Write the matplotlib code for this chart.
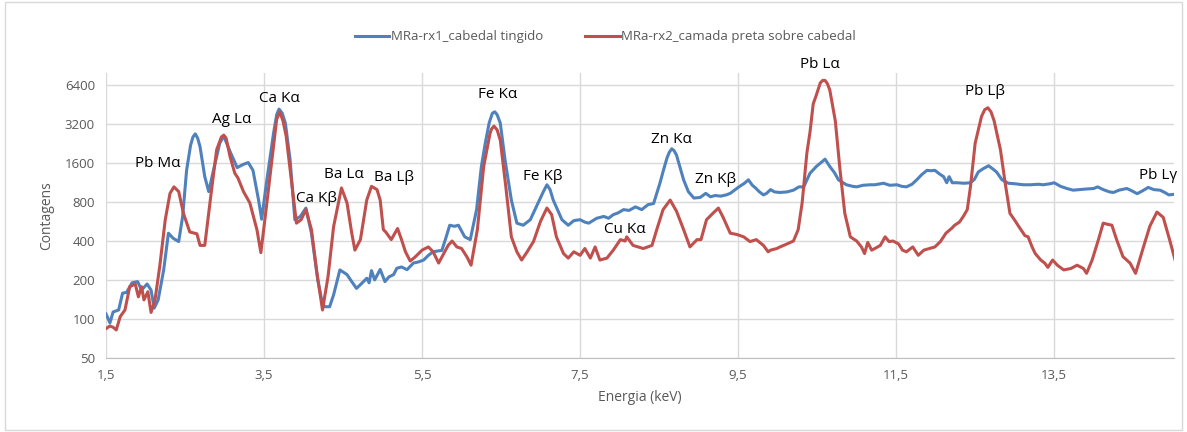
import matplotlib.pyplot as plt
from matplotlib.ticker import FixedLocator, FixedFormatter, NullLocator
from matplotlib.patches import Rectangle

# MRa-rx1_cabedal tingido
energia_rx1 = [1.50, 1.55, 1.59, 1.66, 1.71, 1.76, 1.83, 1.90, 1.95, 2.02, 2.07, 2.11, 2.16, 2.23, 2.29, 2.35,
               2.42, 2.47, 2.52, 2.57, 2.60, 2.63, 2.66, 2.69, 2.75, 2.80, 2.86, 2.94, 2.99, 3.07, 3.16, 3.23,
               3.30, 3.36, 3.43, 3.47, 3.53, 3.62, 3.66, 3.69, 3.73, 3.77, 3.83, 3.89, 3.96, 4.03, 4.10, 4.18,
               4.24, 4.27, 4.33, 4.38, 4.46, 4.55, 4.61, 4.67, 4.74, 4.80, 4.83, 4.86, 4.90, 4.97, 5.03, 5.08,
               5.14, 5.18, 5.24, 5.31, 5.39, 5.45, 5.52, 5.58, 5.64, 5.70, 5.75, 5.80, 5.85, 5.91, 5.96, 6.04,
               6.11, 6.19, 6.25, 6.30, 6.35, 6.39, 6.42, 6.45, 6.49, 6.55, 6.63, 6.70, 6.78, 6.87, 6.97, 7.03,
               7.08, 7.12, 7.16, 7.27, 7.35, 7.42, 7.50, 7.56, 7.61, 7.71, 7.80, 7.86, 7.92, 7.98, 8.05, 8.12,
               8.20, 8.28, 8.36, 8.43, 8.51, 8.56, 8.60, 8.63, 8.66, 8.69, 8.72, 8.81, 8.87, 8.94, 9.02, 9.09,
               9.15, 9.21, 9.28, 9.35, 9.40, 9.51, 9.58, 9.63, 9.68, 9.72, 9.77, 9.82, 9.86, 9.91, 9.96, 10.03,
               10.12, 10.20, 10.27, 10.33, 10.41, 10.49, 10.55, 10.60, 10.66, 10.72, 10.77, 10.87, 10.95, 11.00,
               11.08, 11.17, 11.23, 11.34, 11.42, 11.51, 11.57, 11.63, 11.70, 11.76, 11.82, 11.89, 11.94, 11.99,
               12.05, 12.10, 12.14, 12.17, 12.21, 12.27, 12.36, 12.44, 12.49, 12.54, 12.60, 12.67, 12.72, 12.77,
               12.84, 12.92, 13.00, 13.11, 13.20, 13.30, 13.36, 13.45, 13.50, 13.58, 13.66, 13.74, 13.82, 13.90,
               14.00, 14.05, 14.12, 14.20, 14.25, 14.32, 14.42, 14.48, 14.55, 14.62, 14.69, 14.76, 14.84, 14.90,
               14.95, 15.02]
contagens_rx1 = [109, 93, 113, 117, 158, 160, 190, 194, 167, 186, 167, 121, 140, 239, 460, 420,
                 396, 620, 1410, 2200, 2550, 2700, 2500, 2150, 1260, 965, 1410, 2290, 2600, 1970, 1480, 1560,
                 1620, 1410, 835, 590, 1120, 2720, 3800, 4200, 3900, 3270, 1700, 585, 620, 720, 460, 200,
                 130, 124, 124, 153, 239, 220, 194, 172, 189, 206, 190, 236, 200, 241, 194, 211,
                 220, 246, 252, 240, 270, 275, 285, 310, 330, 335, 338, 420, 530, 520, 530, 431,
                 410, 700, 1500, 2290, 3300, 3900, 4000, 3800, 3270, 1700, 830, 550, 530, 585, 790, 950,
                 1090, 1000, 830, 585, 530, 575, 585, 560, 550, 600, 620, 600, 640, 660, 700, 690,
                 735, 700, 765, 780, 1120, 1450, 1760, 1950, 2070, 2000, 1850, 1190, 965, 860, 870, 935,
                 880, 900, 890, 910, 935, 1050, 1120, 1190, 1080, 1030, 960, 910, 935, 1000, 960, 950,
                 960, 990, 1050, 1050, 1340, 1510, 1620, 1720, 1510, 1350, 1190, 1090, 1060, 1050,
                 1080, 1090, 1090, 1120, 1080, 1090, 1060, 1050, 1100, 1190, 1300, 1410, 1400, 1410,
                 1320, 1260, 1130, 1260, 1130, 1130, 1120, 1130, 1200, 1370, 1450, 1530, 1450, 1370,
                 1190, 1120, 1110, 1090, 1090, 1100, 1090, 1110, 1130, 1060, 1020, 990, 1000, 1010,
                 1020, 1050, 1000, 960, 950, 990, 1020, 980, 930, 980, 1040, 1000, 990, 950,
                 910, 920]

# MRa-rx2_camada preta sobre cabedal
energia_rx2 = [1.50, 1.55, 1.59, 1.63, 1.68, 1.74, 1.80, 1.87, 1.91, 1.95, 1.98, 2.03, 2.07, 2.12, 2.18, 2.25,
               2.31, 2.36, 2.42, 2.48, 2.56, 2.65, 2.69, 2.75, 2.82, 2.90, 2.96, 2.99, 3.02, 3.07, 3.13, 3.17,
               3.24, 3.32, 3.41, 3.46, 3.53, 3.62, 3.66, 3.70, 3.74, 3.78, 3.85, 3.91, 3.97, 4.03, 4.10, 4.17,
               4.24, 4.31, 4.38, 4.48, 4.55, 4.61, 4.65, 4.72, 4.80, 4.86, 4.93, 4.97, 5.01, 5.04, 5.11, 5.19,
               5.24, 5.29, 5.35, 5.41, 5.50, 5.58, 5.64, 5.71, 5.75, 5.83, 5.88, 5.94, 6.00, 6.07, 6.12, 6.20,
               6.28, 6.36, 6.38, 6.41, 6.45, 6.49, 6.56, 6.63, 6.70, 6.76, 6.83, 6.91, 7.00, 7.08, 7.14, 7.20,
               7.29, 7.35, 7.42, 7.50, 7.56, 7.63, 7.69, 7.75, 7.84, 7.92, 8.01, 8.07, 8.09, 8.17, 8.30, 8.41,
               8.47, 8.55, 8.64, 8.72, 8.81, 8.89, 8.98, 9.03, 9.10, 9.18, 9.25, 9.31, 9.40, 9.48, 9.57, 9.65,
               9.73, 9.82, 9.88, 9.91, 9.99, 10.03, 10.12, 10.20, 10.26, 10.31, 10.37, 10.41, 10.45, 10.49,
               10.54, 10.57, 10.60, 10.63, 10.66, 10.73, 10.79, 10.85, 10.92, 11.00, 11.06, 11.10, 11.14, 11.19,
               11.23, 11.30, 11.36, 11.41, 11.46, 11.53, 11.58, 11.63, 11.71, 11.78, 11.85, 11.92, 11.99, 12.06,
               12.13, 12.20, 12.24, 12.30, 12.35, 12.40, 12.44, 12.50, 12.58, 12.62, 12.66, 12.70, 12.74, 12.82,
               12.88, 12.94, 13.00, 13.05, 13.13, 13.17, 13.22, 13.26, 13.33, 13.38, 13.42, 13.48, 13.54, 13.62,
               13.71, 13.79, 13.87, 13.91, 13.98, 14.06, 14.12, 14.17, 14.23, 14.29, 14.37, 14.46, 14.53, 14.63,
               14.71, 14.80, 14.88, 14.96, 15.03]
contagens_rx2 = [84, 88, 86, 82, 104, 117, 177, 186, 148, 177, 140, 162, 112, 140, 254, 585,
                 935, 1050, 965, 655, 470, 455, 370, 370, 830, 2030, 2550, 2640, 2500, 1800, 1340, 1230,
                 965, 790, 490, 325, 735, 2150, 3500, 4000, 3400, 2600, 1120, 550, 585, 700, 490, 225,
                 117, 212, 515, 1030, 790, 460, 340, 410, 830, 1060, 1000, 830, 490, 470, 410, 500,
                 410, 330, 280, 300, 340, 360, 330, 270, 300, 370, 400, 360, 350, 300, 260, 490,
                 1510, 2720, 2950, 3100, 2900, 2410, 1050, 431, 330, 285, 330, 396, 570, 720, 640, 431,
                 320, 295, 330, 310, 350, 295, 360, 285, 295, 340, 410, 400, 431, 370, 350, 370,
                 490, 700, 830, 680, 490, 360, 410, 410, 585, 655, 720, 610, 460, 450, 431, 396,
                 410, 370, 330, 340, 350, 360, 380, 400, 490, 790, 1920, 2800, 4600, 5400,
                 6700, 7000, 7000, 6600, 5900, 3400, 1410, 655, 431, 400, 360, 320, 390, 340,
                 350, 370, 431, 396, 400, 380, 340, 330, 360, 310, 340, 350, 360, 396,
                 460, 500, 530, 560, 620, 700, 1050, 2290, 3680, 4150, 4300, 4000, 3400, 2030,
                 1120, 655, 580, 520, 440, 431, 360, 320, 285, 270, 250, 285, 260, 239,
                 245, 260, 245, 225, 285, 410, 550, 540, 530, 410, 303, 270, 225, 360,
                 520, 670, 610, 410, 285]

# picos identificados
rotulos = ["Pb Mα", "Ag Lα", "Ca Kα", "Ca Kβ", "Ba Lα", "Ba Lβ", "Fe Kα", "Fe Kβ",
           "Cu Kα", "Zn Kα", "Zn Kβ", "Pb Lα", "Pb Lβ", "Pb Lγ"]
rotulos_x = [2.15, 3.09, 3.70, 4.16, 4.51, 5.15, 6.46, 7.03, 8.06, 8.65, 9.22, 10.54, 12.63, 14.81]
rotulos_y = [1600, 3500, 5100, 860, 1300, 1230, 5400, 1260, 495, 2460, 1205, 9300, 5750, 1280]

x_ticks = [1.5, 3.5, 5.5, 7.5, 9.5, 11.5, 13.5]
x_labels = ["1,5", "3,5", "5,5", "7,5", "9,5", "11,5", "13,5"]
y_ticks = [50, 100, 200, 400, 800, 1600, 3200, 6400]

plt.rcParams['font.family'] = ['Open Sans', 'DejaVu Sans']
cinza = "#595959"

fig = plt.figure(figsize=(11.87, 4.32), dpi=100)
ax = fig.add_axes([0.0893, 0.172, 0.9, 0.66])

ax.plot(energia_rx1, contagens_rx1, color="#4F81BD", lw=2.2, label="MRa-rx1_cabedal tingido",
        solid_joinstyle="round")
ax.plot(energia_rx2, contagens_rx2, color="#C0504D", lw=2.2, label="MRa-rx2_camada preta sobre cabedal",
        solid_joinstyle="round")

ax.set_yscale("log", base=2)
ax.set_ylim(50, 8050)
ax.set_xlim(1.5, 15.02)
ax.yaxis.set_major_locator(FixedLocator(y_ticks))
ax.yaxis.set_major_formatter(FixedFormatter([str(v) for v in y_ticks]))
ax.yaxis.set_minor_locator(NullLocator())
ax.xaxis.set_major_locator(FixedLocator(x_ticks))
ax.xaxis.set_major_formatter(FixedFormatter(x_labels))

ax.grid(True, color="#D9D9D9", lw=1)
ax.set_axisbelow(True)
ax.tick_params(length=0, labelsize=9.5, colors=cinza, pad=8)
for s in ["top", "right", "left"]:
    ax.spines[s].set_visible(False)
ax.spines["bottom"].set_color("#BFBFBF")

ax.set_xlabel("Energia (keV)", fontsize=10, color=cinza, labelpad=6)
ax.set_ylabel("Contagens", fontsize=10, color=cinza, labelpad=8)

for txt, xv, yv in zip(rotulos, rotulos_x, rotulos_y):
    ax.text(xv, yv, txt, ha="center", va="center", fontsize=11, color="black", clip_on=False)

fig.legend(loc="center", bbox_to_anchor=(0.51, 0.915), ncol=2, frameon=False, fontsize=9.5,
           handlelength=2.6, handletextpad=0.1, columnspacing=3.2, labelcolor=cinza)

fig.patches.append(Rectangle((0.004, 0.004), 0.992, 0.992, transform=fig.transFigure,
                             fill=False, edgecolor="#D9D9D9", lw=1))

plt.savefig("out.png", dpi=100)
